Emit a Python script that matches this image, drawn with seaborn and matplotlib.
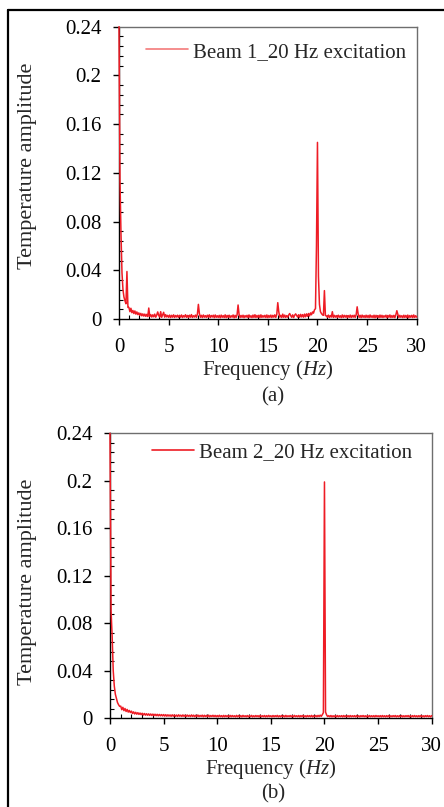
import numpy as np
import pandas as pd
import matplotlib
matplotlib.use("Agg")
import matplotlib.pyplot as plt
from matplotlib.lines import Line2D
from matplotlib.ticker import MultipleLocator, FixedLocator
import seaborn as sns

# ---------------- data (amplitudes in units of 1e-4, sampled every 0.1 Hz from 0 to 30 Hz) ----------------
freq_step_hz = 0.1
beam1_amp_e4 = [
    2400, 1130, 700, 380, 240, 180, 150, 125, 390, 95,
    95, 60, 88, 52, 70, 45, 66, 40, 58, 36,
    50, 30, 46, 26, 42, 24, 40, 22, 38, 20,
    90, 22, 36, 16, 34, 18, 40, 15, 32, 58,
    30, 16, 60, 14, 34, 55, 15, 36, 17, 30,
    14, 32, 12, 30, 15, 34, 13, 29, 16, 31,
    13, 30, 15, 33, 12, 28, 16, 35, 14, 29,
    12, 31, 15, 36, 13, 27, 16, 32, 14, 40,
    120, 45, 14, 30, 12, 33, 15, 28, 13, 31,
    15, 34, 12, 29, 16, 31, 11, 33, 14, 27,
    13, 30, 10, 32, 14, 28, 12, 34, 11, 29,
    14, 31, 12, 27, 15, 33, 10, 30, 13, 35,
    115, 38, 12, 29, 14, 31, 11, 28, 15, 30,
    12, 33, 14, 27, 11, 32, 13, 35, 12, 29,
    14, 31, 11, 34, 13, 28, 15, 30, 12, 33,
    11, 29, 14, 32, 12, 30, 15, 34, 13, 38,
    134, 60, 15, 30, 12, 40, 14, 32, 13, 28,
    15, 33, 45, 28, 14, 34, 12, 31, 42, 29,
    16, 35, 14, 38, 17, 36, 15, 40, 18, 42,
    22, 45, 25, 50, 35, 58, 48, 75, 85, 600,
    1450, 350, 120, 60, 45, 35, 30, 233, 28, 26,
    14, 32, 12, 29, 16, 60, 13, 30, 15, 28,
    12, 31, 14, 27, 11, 33, 13, 30, 15, 29,
    11, 28, 14, 32, 12, 29, 15, 31, 13, 35,
    100, 40, 13, 30, 11, 32, 14, 28, 12, 31,
    13, 29, 11, 33, 14, 27, 12, 31, 10, 30,
    14, 28, 11, 32, 13, 30, 12, 27, 15, 31,
    11, 29, 14, 33, 12, 28, 13, 30, 11, 35,
    68, 38, 12, 30, 14, 27, 11, 31, 13, 29,
    12, 32, 10, 28, 14, 30, 11, 33, 13, 27,
    15,
]
beam2_amp_e4 = [
    2400, 900, 690, 400, 270, 200, 165, 130, 112, 98,
    100, 70, 90, 62, 80, 55, 72, 50, 64, 46,
    58, 38, 52, 34, 48, 32, 45, 30, 42, 28,
    40, 25, 38, 24, 36, 23, 35, 22, 34, 21,
    33, 20, 32, 19, 31, 18, 30, 18, 29, 17,
    29, 16, 28, 15, 27, 16, 26, 14, 27, 15,
    26, 14, 25, 13, 27, 15, 24, 13, 26, 14,
    24, 12, 25, 14, 23, 12, 26, 13, 24, 11,
    23, 12, 25, 11, 22, 13, 24, 10, 23, 12,
    22, 11, 24, 10, 21, 12, 23, 11, 22, 10,
    21, 10, 23, 11, 20, 9, 22, 10, 21, 11,
    20, 9, 22, 10, 21, 11, 19, 9, 22, 10,
    21, 10, 20, 9, 22, 11, 19, 10, 21, 9,
    20, 11, 22, 9, 19, 10, 21, 11, 20, 9,
    22, 10, 19, 11, 21, 9, 20, 10, 22, 11,
    19, 9, 21, 10, 20, 11, 22, 9, 19, 10,
    21, 11, 20, 9, 22, 10, 19, 11, 21, 10,
    20, 9, 22, 11, 19, 10, 21, 9, 20, 11,
    22, 10, 19, 9, 21, 11, 20, 10, 22, 9,
    19, 11, 21, 10, 22, 12, 24, 14, 28, 45,
    1990, 50, 26, 12, 20, 10, 21, 9, 19, 10,
    20, 9, 21, 10, 19, 11, 20, 9, 21, 10,
    19, 10, 20, 9, 21, 10, 19, 11, 20, 9,
    21, 10, 19, 9, 20, 11, 21, 10, 19, 9,
    20, 9, 21, 10, 19, 10, 20, 9, 21, 11,
    19, 10, 20, 9, 21, 10, 19, 9, 20, 10,
    21, 9, 19, 10, 20, 11, 21, 9, 19, 10,
    20, 10, 21, 9, 19, 10, 20, 11, 21, 9,
    19, 9, 20, 10, 21, 10, 19, 9, 20, 10,
    21, 10, 19, 9, 20, 11, 21, 10, 19, 9,
    20,
]
series_labels = ["Beam 1_20 Hz excitation", "Beam 2_20 Hz excitation"]
panel_captions = ["(a)", "(b)"]
x_ticks = [0, 5, 10, 15, 20, 25, 30]
y_ticks = [0, 0.04, 0.08, 0.12, 0.16, 0.2, 0.24]
y_tick_labels = ["0", "0.04", "0.08", "0.12", "0.16", "0.2", "0.24"]
x_label = "Frequency ($\\mathit{Hz}$)"
y_label = "Temperature amplitude"

# ---------------- styling ----------------
sns.set_style("ticks")
plt.rcParams["font.family"] = ["Liberation Serif", "DejaVu Serif"]
plt.rcParams["mathtext.fontset"] = "custom"
plt.rcParams["mathtext.rm"] = "Liberation Serif"
plt.rcParams["mathtext.it"] = "Liberation Serif:italic"
plt.rcParams["font.size"] = 15

RED = "#ee1c25"
W, H = 444, 807
fig = plt.figure(figsize=(W / 100, H / 100), dpi=100)

def px_axes(left, top, right, bottom):
    return fig.add_axes([left / W, 1 - bottom / H, (right - left) / W, (bottom - top) / H])

ax1 = px_axes(119, 26.7, 416.7, 319)
ax2 = px_axes(110, 433.3, 431.7, 718)

def make_df(amps):
    n = len(amps)
    return pd.DataFrame({
        "Frequency": np.round(np.arange(n) * freq_step_hz, 2),
        "Amplitude": np.asarray(amps, dtype=float) * 1e-4,
    })

panel_specs = [
    (ax1, beam1_amp_e4, series_labels[0], "#f47a7a", (146, 52), panel_captions[0], 397, 166),
    (ax2, beam2_amp_e4, series_labels[1], RED, (152, 452), panel_captions[1], 794, 582),
]

for ax, amps, lab, legcol, (lx, ly), cap, capy, ylab_y in panel_specs:
    sns.lineplot(data=make_df(amps), x="Frequency", y="Amplitude", ax=ax,
                 color=RED, linewidth=1.1, estimator=None, legend=False, zorder=3)
    for ln in ax.lines:
        ln.set_clip_on(False)
    ax.set_xlim(0, 30)
    ax.set_ylim(0, 0.24)
    ax.xaxis.set_major_locator(FixedLocator(x_ticks))
    ax.xaxis.set_minor_locator(MultipleLocator(1))
    ax.set_yticks(y_ticks)
    ax.set_yticklabels(y_tick_labels)
    ax.yaxis.set_minor_locator(MultipleLocator(0.008))
    ax.tick_params(axis="both", which="major", direction="out", length=4.5, width=1,
                   color="black", labelsize=15, labelcolor="black")
    ax.tick_params(axis="y", which="major", pad=8)
    ax.tick_params(axis="x", which="major", pad=9)
    ax.tick_params(axis="both", which="minor", direction="in", length=3, width=0.8, color="black")
    for s in ["left", "bottom"]:
        ax.spines[s].set_color("black")
        ax.spines[s].set_linewidth(1.0)
    for s in ["top", "right"]:
        ax.spines[s].set_visible(True)
        ax.spines[s].set_color("#6e6e6e")
        ax.spines[s].set_linewidth(1.0)
    ax.set_xlabel(x_label, fontsize=15, labelpad=1)
    ax.set_ylabel(y_label, fontsize=16)
    ax.yaxis.set_label_coords(37 / W, 1 - ylab_y / H, transform=fig.transFigure)
    ax.grid(False)
    handle = Line2D([], [], color=legcol, linewidth=1.2)
    ax.legend([handle], [lab], loc="center left", bbox_to_anchor=(lx / W, 1 - ly / H),
              bbox_transform=fig.transFigure, frameon=False, borderpad=0, borderaxespad=0,
              handlelength=2.0, handletextpad=0.25, fontsize=15)
    fig.text(273 / W, 1 - capy / H, cap, ha="center", va="center", fontsize=15)

# outer frame (top and left edges visible)
fig.add_artist(Line2D([8 / W, 1.02], [1 - 10 / H, 1 - 10 / H], transform=fig.transFigure,
                      color="black", linewidth=1.6))
fig.add_artist(Line2D([8 / W, 8 / W], [1 - 10 / H, -0.02], transform=fig.transFigure,
                      color="black", linewidth=1.6))

fig.savefig("out.png", dpi=100)
